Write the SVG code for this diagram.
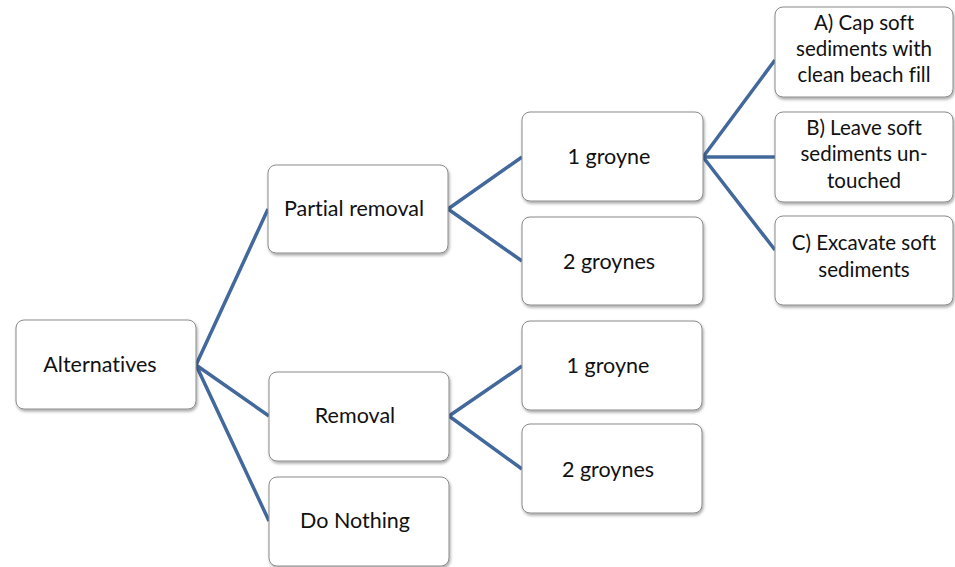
<svg xmlns="http://www.w3.org/2000/svg" width="955" height="567" viewBox="0 0 955 567">
<defs>
<filter id="sh" x="-10%" y="-10%" width="125%" height="130%">
<feDropShadow dx="1" dy="2" stdDeviation="1.5" flood-color="#000" flood-opacity="0.35"/>
</filter>
<style>
.box{fill:#fff;stroke:#8a8a8a;stroke-width:1;filter:url(#sh)}
.t{font-family:Lato,"Open Sans","Liberation Sans",sans-serif;font-size:21.5px;fill:#111;text-anchor:middle;font-variant-ligatures:none}
.s{font-size:20.5px}
.c{stroke:#43699c;stroke-width:3.5;fill:none;stroke-linecap:butt}
</style>
</defs>
<rect width="955" height="567" fill="#fff"/>
<g id="connectors">
<path class="c" d="M196,365 L268,209 M196,365 L269,416 M196,365 L269,521"/>
<path class="c" d="M448,209 L522,157 M448,209 L522,261"/>
<path class="c" d="M449,416 L522,366 M449,416 L522,469"/>
<path class="c" d="M703,157 L775,60 M703,157 L775,157 M703,157 L775,250"/>
</g>
<g id="alternatives"><rect class="box" x="16" y="320" width="180" height="89" rx="8"/><text class="t" x="100" y="372">Alternatives</text></g>
<g id="partial-removal"><rect class="box" x="268" y="165" width="180" height="88" rx="8"/><text class="t" x="354" y="216">Partial removal</text></g>
<g id="removal"><rect class="box" x="269" y="372" width="180" height="89" rx="8"/><text class="t" x="355" y="423">Removal</text></g>
<g id="do-nothing"><rect class="box" x="269" y="477" width="180" height="89" rx="8"/><text class="t" x="355" y="528">Do Nothing</text></g>
<g id="pr-1-groyne"><rect class="box" x="522" y="112" width="181" height="89" rx="8"/><text class="t" x="609" y="164">1 groyne</text></g>
<g id="pr-2-groynes"><rect class="box" x="522" y="217" width="181" height="88" rx="8"/><text class="t" x="609" y="269">2 groynes</text></g>
<g id="r-1-groyne"><rect class="box" x="522" y="321" width="180" height="89" rx="8"/><text class="t" x="608" y="373">1 groyne</text></g>
<g id="r-2-groynes"><rect class="box" x="522" y="424" width="180" height="89" rx="8"/><text class="t" x="608" y="477">2 groynes</text></g>
<g id="option-a"><rect class="box" x="775" y="7" width="178" height="90" rx="8"/><text class="t s" x="864"><tspan x="864" y="30">A) Cap soft</tspan><tspan x="864" y="56">sediments with</tspan><tspan x="864" y="82">clean beach fill</tspan></text></g>
<g id="option-b"><rect class="box" x="775" y="112" width="178" height="90" rx="8"/><text class="t s" x="864"><tspan x="864" y="135">B) Leave soft</tspan><tspan x="864" y="161">sediments un-</tspan><tspan x="864" y="188">touched</tspan></text></g>
<g id="option-c"><rect class="box" x="775" y="216" width="178" height="89" rx="8"/><text class="t s" x="864"><tspan x="864" y="250">C) Excavate soft</tspan><tspan x="864" y="277">sediments</tspan></text></g>
</svg>
